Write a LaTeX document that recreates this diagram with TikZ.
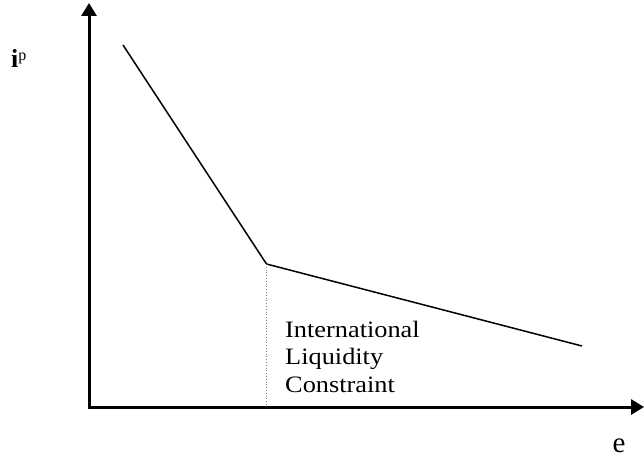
\documentclass[tikz,border=0pt]{standalone}
\usepackage{fontspec}
\setmainfont{Liberation Serif}
\usetikzlibrary{arrows.meta}
\tikzset{
  axis/.style={line width=3pt, -{Triangle[length=13pt,width=15pt]}},
  curve/.style={line width=1.5pt, line join=miter},
  guide/.style={gray, line width=0.8pt, dotted},
  lbl/.style={inner sep=0pt, font=\fontsize{26}{30}\selectfont},
  note/.style={inner sep=0pt, font=\fontsize{23.5}{27.3}\selectfont},
}
\begin{document}
\begin{tikzpicture}[x=1pt,y=-1pt]
\useasboundingbox (0,0) rectangle (644,457);
\coordinate (O) at (89,407);
\coordinate (ytip) at (89,3);
\coordinate (xtip) at (644,407);
\draw[axis] (89,408.5) -- (ytip);
\draw[axis] (87.5,407) -- (xtip);
\coordinate (A) at (123,45);
\coordinate (K) at (266.5,264);
\coordinate (B) at (582,346);
\coordinate (Kb) at (266.5,405.5);
\draw[curve] (A) -- (K) -- (B);
\draw[guide] (K) -- (Kb);
\node[note, anchor=base west, align=left, xscale=1.12] (t) at (285,392) {International\\Liquidity\\Constraint};
\node[lbl, anchor=base west] (ylab) at (11,68) {\textbf{i}{\fontsize{16}{16}\selectfont\raisebox{7pt}{p}}};
\node[lbl, anchor=base west, font=\fontsize{29}{30}\selectfont] (xlab) at (612.5,452) {e};
\end{tikzpicture}
\end{document}
